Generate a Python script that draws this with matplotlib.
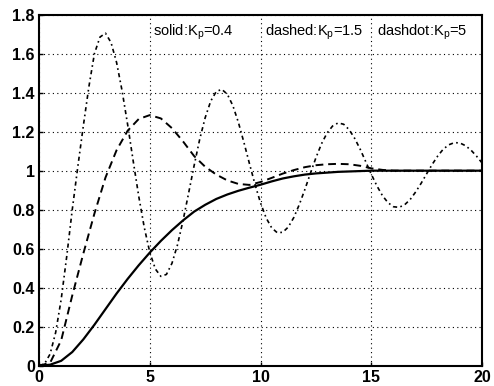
import numpy as np
import matplotlib
matplotlib.use("Agg")
import matplotlib.pyplot as plt

plt.rcParams["font.family"] = ["Liberation Sans", "DejaVu Sans"]
plt.rcParams["mathtext.default"] = "regular"

# sample times (s)
t_half = np.arange(0, 20.01, 0.5)
t_quarter = np.arange(0, 20.01, 0.25)

# Kp = 0.4 (solid), every 0.5 s
y_solid = [0, 0.005, 0.025, 0.07, 0.135, 0.21, 0.29, 0.37, 0.445, 0.515,
           0.58, 0.64, 0.695, 0.745, 0.79, 0.825, 0.855, 0.878, 0.897, 0.913,
           0.928, 0.945, 0.96, 0.971, 0.98, 0.986, 0.99, 0.994, 0.996, 0.998,
           1.0, 1.0, 1.0, 1.0, 1.0, 1.0, 1.0, 1.0, 1.0, 1.0, 1.0]

# Kp = 1.5 (dashed), every 0.5 s
y_dashed = [0, 0.015, 0.13, 0.36, 0.575, 0.78, 0.965, 1.105, 1.205, 1.265,
            1.285, 1.268, 1.218, 1.15, 1.075, 1.02, 0.98, 0.95, 0.932, 0.927,
            0.942, 0.963, 0.985, 1.003, 1.018, 1.028, 1.033, 1.035, 1.033, 1.025,
            1.012, 1.004, 1.0, 1.0, 1.0, 1.0, 1.0, 1.0, 1.0, 1.0, 1.0]

# Kp = 5 (dashdot), every 0.25 s
y_dashdot = [0, 0.01, 0.06, 0.17, 0.34, 0.56, 0.80, 1.02, 1.23, 1.43,
             1.60, 1.685, 1.705, 1.657, 1.555, 1.409, 1.236, 1.050, 0.869, 0.709,
             0.581, 0.496, 0.458, 0.468, 0.525, 0.620, 0.744, 0.884, 1.026, 1.160,
             1.272, 1.357, 1.406, 1.417, 1.392, 1.333, 1.247, 1.144, 1.035, 0.929,
             0.834, 0.758, 0.707, 0.682, 0.684, 0.711, 0.760, 0.827, 0.904, 0.987,
             1.067, 1.138, 1.193, 1.229, 1.245, 1.238, 1.210, 1.165, 1.109, 1.045,
             0.981, 0.922, 0.872, 0.836, 0.815, 0.812, 0.825, 0.852, 0.891, 0.936,
             0.985, 1.033, 1.076, 1.111, 1.133, 1.144, 1.142, 1.128, 1.105, 1.074,
             1.039]

labels = ["solid:K$_p$=0.4", "dashed:K$_p$=1.5", "dashdot:K$_p$=5"]
label_x = [5.14, 10.2, 15.26]

fig = plt.figure(figsize=(4.94, 3.86), dpi=100)
ax = fig.add_axes([0.079, 0.0526, 0.897, 0.9094])

ax.plot(t_half, y_solid, color="black", linewidth=1.6, linestyle="-")
ax.plot(t_half, y_dashed, color="black", linewidth=1.4, dashes=(4, 2.5))
ax.plot(t_quarter, y_dashdot, color="black", linewidth=1.2, dashes=(2.5, 2, 1, 2))

ax.set_xlim(0, 20)
ax.set_ylim(0, 1.8)
ax.set_xticks([0, 5, 10, 15, 20])
ax.set_yticks(np.arange(0, 1.81, 0.2))
ax.set_yticklabels(["0", "0.2", "0.4", "0.6", "0.8", "1", "1.2", "1.4", "1.6", "1.8"])
ax.grid(True, color="black", linestyle=(0, (1, 3)), linewidth=0.8)
ax.tick_params(direction="in", length=3, width=1, labelsize=11.5, pad=3)
for lbl in ax.get_xticklabels() + ax.get_yticklabels():
    lbl.set_fontweight("bold")
for spine in ax.spines.values():
    spine.set_linewidth(1.5)

for x, text in zip(label_x, labels):
    ax.text(x, 1.71, text, ha="left", va="center", fontsize=10.5)

fig.savefig("out.png", dpi=100)
